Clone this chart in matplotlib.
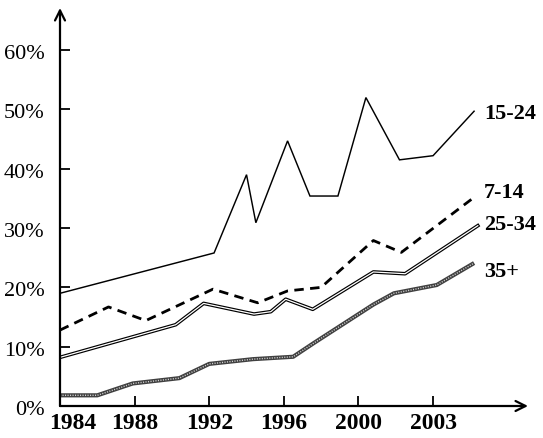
import matplotlib
matplotlib.use("Agg")
import matplotlib.pyplot as plt
import matplotlib.patheffects as pe
from matplotlib.transforms import ScaledTranslation

plt.rcParams['font.family'] = ['Liberation Serif', 'DejaVu Serif']

# ---- data (x in years, y in %) ----
x_1524 = [1984.0, 1992.26, 1994.0, 1994.5, 1996.2, 1997.4, 1998.9, 2000.4, 2002.2, 2004.0, 2006.2]
y_1524 = [19.0, 25.8, 39.0, 30.9, 44.7, 35.4, 35.4, 52.0, 41.5, 42.2, 49.7]

x_714 = [1984.0, 1986.6, 1988.6, 1992.2, 1994.6, 1996.2, 1998.0, 2000.8, 2002.3, 2006.25]
y_714 = [12.8, 16.7, 14.4, 19.7, 17.4, 19.4, 20.0, 27.9, 25.9, 35.3]

x_2534 = [1984.0, 1990.2, 1991.7, 1994.4, 1995.3, 1996.1, 1997.55, 2000.8, 2002.5, 2006.4]
y_2534 = [8.2, 13.7, 17.3, 15.5, 15.9, 18.0, 16.3, 22.6, 22.3, 30.4]

x_35 = [1984.0, 1986.0, 1987.9, 1990.4, 1992.0, 1994.35, 1996.5, 1997.6, 2000.8, 2001.9, 2004.2, 2006.2]
y_35 = [1.8, 1.8, 3.8, 4.7, 7.1, 7.9, 8.3, 10.6, 17.1, 19.0, 20.4, 24.1]

series_labels = ['15-24', '7-14', '25-34', '35+']
label_y = [49.2, 35.9, 30.5, 22.6]

xtick_pos = [1988, 1992, 1996, 2000, 2004]
xtick_labels = ['1988', '1992', '1996', '2000', '2003']
first_xlabel = '1984'
ytick_vals = [0, 10, 20, 30, 40, 50, 60]

# ---- figure ----
fig = plt.figure(figsize=(5.43, 4.38), dpi=100)
ax = fig.add_axes([60/543, 32/438, 468/543, 398/438])
ax.set_xlim(1984, 2009.09)
ax.set_ylim(0, 67.1)
ax.patch.set_alpha(0)
for s in ax.spines.values():
    s.set_visible(False)

# axes with open arrowheads
ax.annotate('', xy=(1.0, 0), xytext=(0, 0), xycoords='axes fraction',
            arrowprops=dict(arrowstyle='->', lw=1.6, color='black',
                            shrinkA=0, shrinkB=0, mutation_scale=18))
ax.annotate('', xy=(0, 1.0), xytext=(0, 0), xycoords='axes fraction',
            arrowprops=dict(arrowstyle='->', lw=1.6, color='black',
                            shrinkA=0, shrinkB=0, mutation_scale=18))

# lines
ax.plot(x_1524, y_1524, color='black', lw=1.05, solid_joinstyle='miter')
ax.plot(x_714, y_714, color='black', lw=2.0, linestyle=(0, (3.4, 2.3)))
ax.plot(x_2534, y_2534, color='black', lw=2.6,
        path_effects=[pe.Stroke(linewidth=2.6, foreground='black'),
                      pe.Stroke(linewidth=0.9, foreground='white')])
ax.plot(x_35, y_35, color='#404040', lw=3.0, solid_capstyle='butt')
ax.plot(x_35, y_35, color='#d0d0d0', lw=1.0, linestyle=(0, (0.8, 1.0)))

# series labels
for lab, yy in zip(series_labels, label_y):
    ax.text(2006.73, yy, lab, fontsize=16, fontweight='bold', va='center', ha='left')

# ticks
ax.set_xticks(xtick_pos)
ax.set_xticklabels(xtick_labels, fontsize=17, fontweight='bold')
ax.set_yticks(ytick_vals)
ax.set_yticklabels([f'{v}%' for v in ytick_vals], fontsize=16)
ax.tick_params(axis='x', direction='in', length=7, width=1.3, pad=5)
ax.tick_params(axis='y', direction='in', length=7, width=1.3, pad=11)
shift = ScaledTranslation(0, -2/100, fig.dpi_scale_trans)
for lbl in ax.get_yticklabels():
    lbl.set_transform(lbl.get_transform() + shift)
ax.annotate(first_xlabel, xy=(1984.7, 0), xycoords=('data', 'axes fraction'),
            xytext=(0, -5), textcoords='offset points',
            fontsize=17, fontweight='bold', ha='center', va='top')

fig.savefig('out.png', dpi=100)
